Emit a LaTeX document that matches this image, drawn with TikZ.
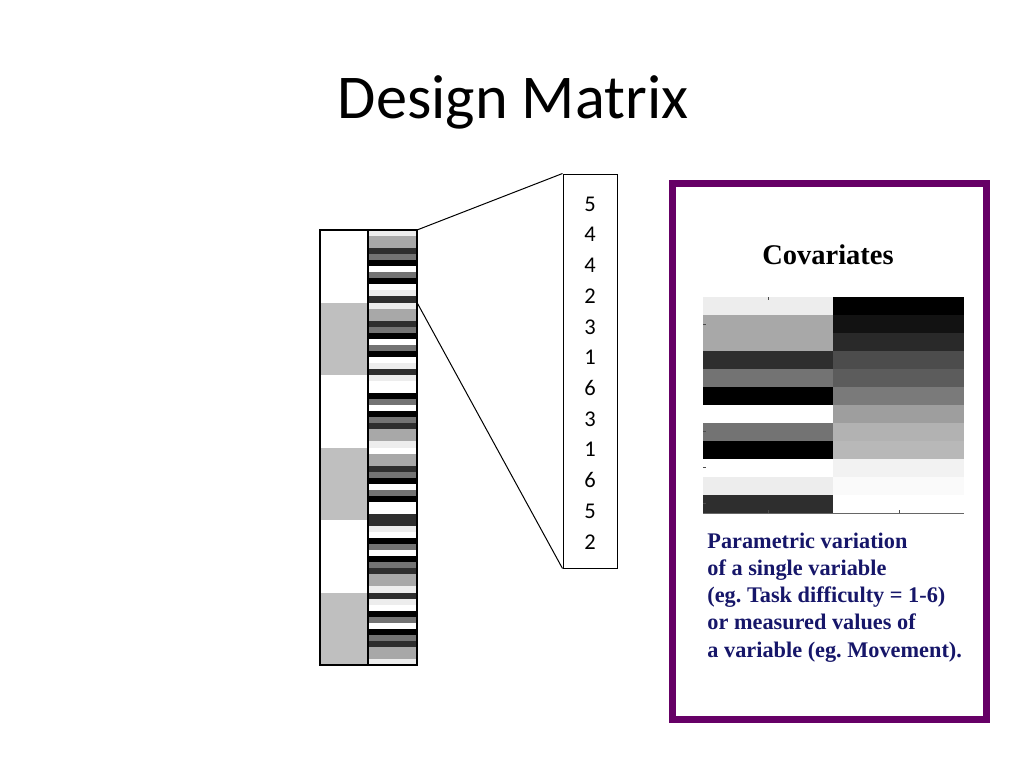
\documentclass[tikz,border=0pt]{standalone}
\usepackage{fontspec}
\setmainfont{Liberation Serif}
\newfontfamily\calibri{Carlito}
\usetikzlibrary{positioning}
\definecolor{slidepurple}{RGB}{102,0,102}
\definecolor{notenavy}{RGB}{22,22,105}
% grey level of each value 1..6
\definecolor{lev1}{gray}{0}
\definecolor{lev2}{gray}{0.18}
\definecolor{lev3}{gray}{0.45}
\definecolor{lev4}{gray}{0.66}
\definecolor{lev5}{gray}{0.93}
\definecolor{lev6}{gray}{1}
\frenchspacing

\begin{document}
\begin{tikzpicture}[x=1pt, y=-1pt, thick]
  \useasboundingbox (0,0) rectangle (1024,768);
  \node[anchor=base, font=\calibri\fontsize{62.3}{70}\selectfont] (title) at (513,118) {Design Matrix};

  % design matrix, condition column and covariate column
  \foreach \b in {1,3,5}
    \fill[black!25] (320,{230+\b*72.5}) rectangle (368,{230+(\b+1)*72.5});
  \foreach \lst [count=\b from 0] in {{5,4,4,2,3,1,6,3,1,6,5,2},{5,4,4,2,3,1,6,3,1,6,5,2},
      {5,6,6,1,3,6,1,3,2,4,4,5},{6,4,4,2,3,1,6,3,1,6,6,2},
      {2,5,6,1,3,6,1,3,2,4,4,5},{2,5,6,1,3,6,1,3,2,4,4,5}}
    \foreach \v [count=\r from 0] in \lst
      \fill[lev\v] (368,{230+\b*72.5+\r*72.5/12}) rectangle (417,{230+\b*72.5+(\r+1)*72.5/12+0.3});
  \draw[line width=1.5] (320,230) rectangle (417,665);
  \draw[line width=1.5] (368,230) -- (368,665);
  \coordinate (dmtop) at (417,230);
  \coordinate (dmmid) at (417,302.5);

  % values of the first block
  \node[draw, line width=1, minimum width=54, minimum height=394, inner sep=0] (numbox) at (590,371) {};
  \foreach \n [count=\i from 0] in {5,4,4,2,3,1,6,3,1,6,5,2}
    \node[font=\calibri\fontsize{22.5}{27}\selectfont] (num\i) at (590,{204+\i*30.7}) {\n};
  \draw[line width=1] (dmtop) -- (numbox.north west);
  \draw[line width=1] (dmmid) -- (numbox.south west);

  % covariates panel
  \draw[slidepurple, line width=7] (672.5,183.5) rectangle (986.5,719.5);
  \node[anchor=base, font=\bfseries\fontsize{28.5}{32}\selectfont] (covtitle) at (828,264) {Covariates};
  \foreach \v [count=\r from 0] in {5,4,4,2,3,1,6,3,1,6,5,2}
    \fill[lev\v] (703,{297+\r*18}) rectangle (833,{297+(\r+1)*18+0.3});
  \foreach \g [count=\r from 0] in {0,0.07,0.16,0.30,0.36,0.48,0.62,0.70,0.72,0.95,0.98,1}{
    \definecolor{cell}{gray}{\g}
    \fill[cell] (833,{297+\r*18}) rectangle (964,{297+(\r+1)*18+0.3});
  }
  \draw[black!70, line width=1] (768,297) -- (768,300) (768,513) -- (768,510) (899,513) -- (899,510);
  \foreach \t in {324,431,467,503}
    \draw[black!70, line width=1] (703,\t) -- (706,\t);
  \draw[black!60, line width=0.8] (703,513) -- (964,513);
  \foreach \ln [count=\i from 0] in {Parametric variation,of a single variable,(eg. Task difficulty = 1-6),or measured values of,a variable (eg. Movement).}
    \node[anchor=base west, inner sep=0, text=notenavy, font=\bfseries\fontsize{22.3}{26}\selectfont] (note\i) at (707,{548+\i*27.3}) {\ln};
\end{tikzpicture}
\end{document}
